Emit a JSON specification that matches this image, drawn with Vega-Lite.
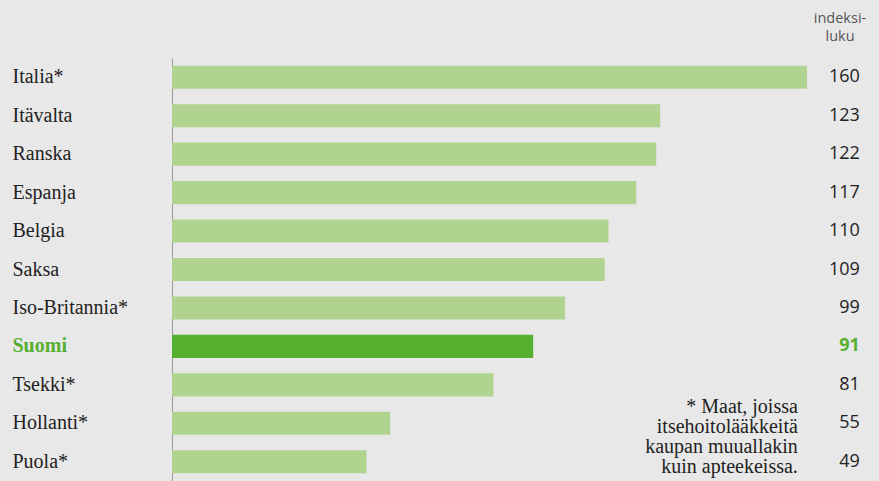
{
  "$schema": "https://vega.github.io/schema/vega-lite/v6.json",
  "width": 635,
  "height": 423,
  "autosize": {"type": "none"},
  "padding": {"left": 172, "top": 58, "right": 72, "bottom": 0},
  "background": "#e8e8e8",
  "config": {"view": {"stroke": null}, "text": {"font": "Liberation Serif"}},
  "title": {
    "text": ["indeksi-", "luku"],
    "anchor": "end",
    "align": "center",
    "dx": 33,
    "frame": "group",
    "font": "Open Sans",
    "fontSize": 14.5,
    "fontWeight": "normal",
    "color": "#555555",
    "lineHeight": 18,
    "offset": 14
  },
  "data": {
    "values": [
      {"maa": "Italia*", "arvo": 160},
      {"maa": "Itävalta", "arvo": 123},
      {"maa": "Ranska", "arvo": 122},
      {"maa": "Espanja", "arvo": 117},
      {"maa": "Belgia", "arvo": 110},
      {"maa": "Saksa", "arvo": 109},
      {"maa": "Iso-Britannia*", "arvo": 99},
      {"maa": "Suomi", "arvo": 91},
      {"maa": "Tsekki*", "arvo": 81},
      {"maa": "Hollanti*", "arvo": 55},
      {"maa": "Puola*", "arvo": 49}
    ]
  },
  "encoding": {
    "y": {
      "field": "maa",
      "type": "nominal",
      "sort": null,
      "scale": {"paddingInner": 0.4, "paddingOuter": 0.2},
      "axis": {
        "title": null,
        "ticks": false,
        "domainColor": "#9a9a9a",
        "domainWidth": 1,
        "labelPadding": 160,
        "labelAlign": "left",
        "labelFont": "Liberation Serif",
        "labelFontSize": 20,
        "labelLimit": 200,
        "labelColor": {"condition": {"test": "datum.value === 'Suomi'", "value": "#56b030"}, "value": "#222222"},
        "labelFontWeight": {"condition": {"test": "datum.value === 'Suomi'", "value": "bold"}, "value": "normal"}
      }
    }
  },
  "layer": [
    {
      "mark": {"type": "bar"},
      "encoding": {
        "x": {"field": "arvo", "type": "quantitative", "scale": {"domain": [0, 160], "nice": false}, "axis": null},
        "color": {"condition": {"test": "datum.maa === 'Suomi'", "value": "#55b030"}, "value": "#b0d490"}
      }
    },
    {
      "transform": [{"filter": "datum.maa !== 'Suomi'"}],
      "mark": {"type": "text", "align": "right", "font": "Open Sans", "fontSize": 18, "color": "#222222"},
      "encoding": {
        "x": {"datum": 173.3, "type": "quantitative"},
        "text": {"field": "arvo", "type": "quantitative"}
      }
    },
    {
      "transform": [{"filter": "datum.maa === 'Suomi'"}],
      "mark": {"type": "text", "align": "right", "font": "Open Sans", "fontSize": 18, "fontWeight": "bold", "color": "#56b030"},
      "encoding": {
        "x": {"datum": 173.3, "type": "quantitative"},
        "text": {"field": "arvo", "type": "quantitative"}
      }
    },
    {
      "data": {"values": [{"maa": "Hollanti*", "teksti": "* Maat, joissa\nitsehoitolääkkeitä\nkaupan muuallakin\nkuin apteekeissa."}]},
      "mark": {"type": "text", "align": "right", "font": "Liberation Serif", "fontSize": 20, "lineBreak": "\n", "lineHeight": 20, "color": "#222222", "dy": -16},
      "encoding": {
        "x": {"datum": 157.7, "type": "quantitative"},
        "text": {"field": "teksti", "type": "nominal"}
      }
    }
  ]
}
